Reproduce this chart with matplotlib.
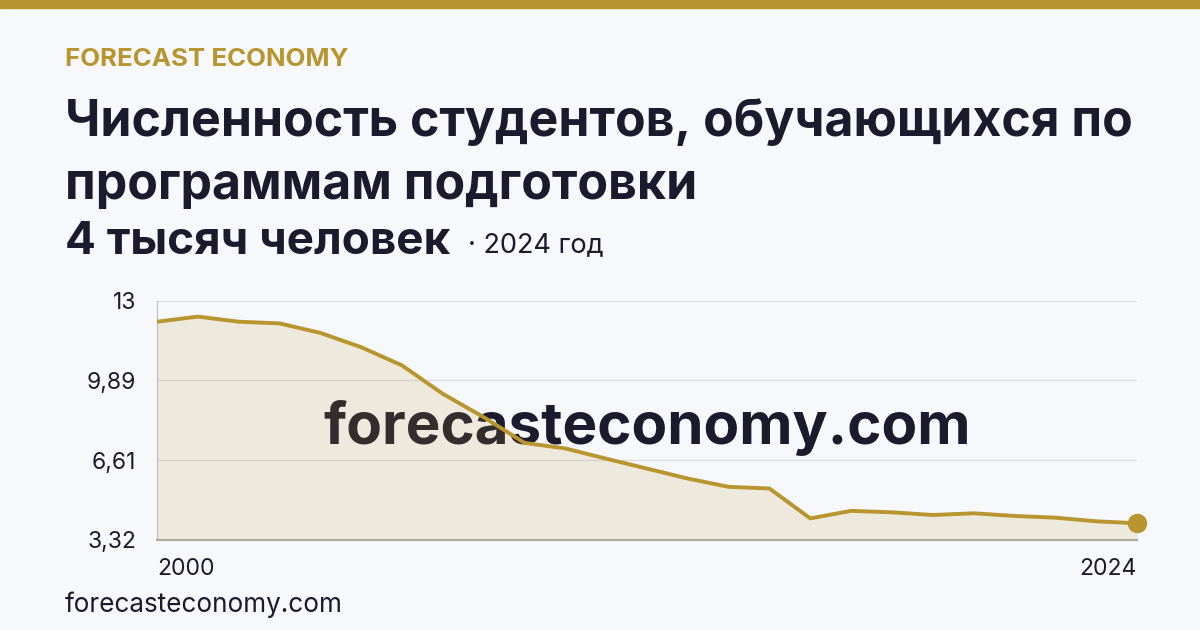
import matplotlib.pyplot as plt
import numpy as np

plt.rcParams['font.family'] = ['Inter', 'DejaVu Sans']

# data (thousand people)
years = list(range(2000, 2025))
values = [12.31, 12.52, 12.31, 12.24, 11.85, 11.26, 10.51, 9.34, 8.38, 7.32,
          7.09, 6.67, 6.26, 5.85, 5.51, 5.44, 4.21, 4.52, 4.46, 4.35,
          4.42, 4.31, 4.24, 4.09, 4.01]
yticks = [3.32, 6.605, 9.89, 13.175]
ytick_labels = ['3,32', '6,61', '9,89', '13']
xtick_years = [2000, 2024]

gold = '#b8952e'
dark = '#1c1b2e'
bg = '#f7f8fb'

W, H = 1200, 630
fig = plt.figure(figsize=(12, 6.3), dpi=100, facecolor=bg)

def fy(y):
    return 1 - y / H

# top bar
fig.patches.append(plt.Rectangle((0, fy(8)), 1, 8 / H, transform=fig.transFigure,
                                 color=gold, zorder=0))

fig.text(65 / W, fy(60), 'FORECAST ECONOMY', color=gold, fontsize=18.6,
         fontweight='bold', va='center', ha='left')
fig.text(65 / W, fy(122), 'Численность студентов, обучающихся по', color=dark,
         fontsize=36, fontweight='bold', va='center', ha='left')
fig.text(65 / W, fy(185), 'программам подготовки', color=dark,
         fontsize=36, fontweight='bold', va='center', ha='left')
fig.text(65 / W, fy(242), '4 тысяч человек', color=dark,
         fontsize=33, fontweight='bold', va='center', ha='left')
fig.text(468 / W, fy(245), '· 2024 год', color=dark,
         fontsize=19.5, va='center', ha='left')
fig.text(65 / W, fy(605), 'forecasteconomy.com', color=dark,
         fontsize=18.8, va='center', ha='left')

ax = fig.add_axes([157 / W, 1 - 540 / H, 980 / W, 239.3 / H])
ax.set_facecolor(bg)
ax.set_xlim(2000, 2024)
ax.set_ylim(yticks[0], yticks[-1])

ax.text(0.5, 0.47, 'forecasteconomy.com', transform=ax.transAxes, color=dark,
        fontsize=42, fontweight='bold', ha='center', va='center', zorder=1)
ax.fill_between(years, values, yticks[0], color=gold, alpha=0.15, lw=0, zorder=2)
ax.plot(years, values, color=gold, lw=2.8, zorder=3, solid_joinstyle='round')
ax.plot(years[-1], values[-1], 'o', color=gold, ms=13, zorder=4, clip_on=False)

ax.set_yticks(yticks)
ax.set_yticklabels(ytick_labels)
ax.set_xticks(xtick_years)
ax.set_xticklabels([str(y) for y in xtick_years])
labels = ax.get_xticklabels()
labels[0].set_ha('left')
labels[-1].set_ha('right')
ax.tick_params(axis='both', length=0, labelsize=16.5, colors=dark)
ax.tick_params(axis='x', pad=13)
ax.tick_params(axis='y', pad=15)

ax.grid(axis='y', color='#dcdce3', lw=0.9, zorder=0)
for s in ['top', 'right']:
    ax.spines[s].set_visible(False)
ax.spines['left'].set_color('#bdbdc5')
ax.spines['bottom'].set_color('#b0a999')
ax.spines['bottom'].set_linewidth(1.5)

fig.savefig('out.png', dpi=100, facecolor=bg)
